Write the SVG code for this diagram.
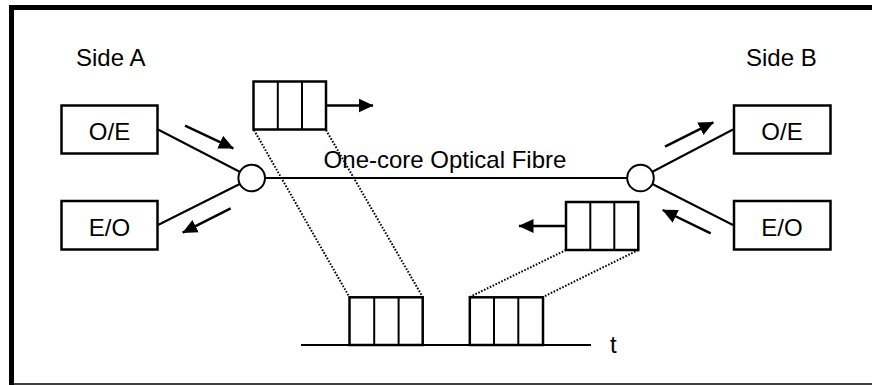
<svg xmlns="http://www.w3.org/2000/svg" width="872" height="385" viewBox="0 0 872 385">
<style>
text{font-family:"Liberation Sans",Arial,sans-serif;font-size:24px;fill:#000}
.box{fill:#fff;stroke:#000;stroke-width:2.5}
.ln{stroke:#000;stroke-width:2;fill:none}
.dot{stroke:#000;stroke-width:2;stroke-dasharray:1.6 1.6;fill:none}
.arr{stroke:#000;stroke-width:2.5;fill:none;marker-end:url(#ah)}
.cir{fill:#fff;stroke:#000;stroke-width:2}
</style>
<defs>
<marker id="ah" markerUnits="userSpaceOnUse" markerWidth="16" markerHeight="16" refX="14.5" refY="7" orient="auto">
<path d="M0,0 L15,7 L0,14 z" fill="#000"/>
</marker>
</defs>
<rect width="872" height="385" fill="#fff"/>
<g id="frame">
<rect x="9" y="5" width="863" height="5" fill="#000"/>
<rect x="9" y="5" width="5" height="380" fill="#000"/>
<line x1="14" y1="384" x2="872" y2="384" stroke="#000" stroke-width="1.5"/>
</g>
<g id="connectors">
<line class="ln" x1="158" y1="129.5" x2="251.7" y2="178"/>
<line class="ln" x1="158" y1="225" x2="251.7" y2="178"/>
<line class="ln" x1="251.7" y1="178" x2="640.5" y2="178"/>
<line class="ln" x1="733" y1="129.5" x2="640.5" y2="178"/>
<line class="ln" x1="733" y1="225" x2="640.5" y2="178"/>
<line class="arr" x1="185" y1="125.7" x2="233.3" y2="148.3"/>
<line class="arr" x1="230.7" y1="208.3" x2="182.7" y2="232.7"/>
<line class="arr" x1="665" y1="146.7" x2="713.3" y2="122.3"/>
<line class="arr" x1="710.7" y1="233.3" x2="662.7" y2="210"/>
<line class="arr" x1="326" y1="105.5" x2="373" y2="105.5"/>
<line class="arr" x1="566" y1="226" x2="519" y2="226"/>
<line class="dot" x1="254" y1="130" x2="349.3" y2="297"/>
<line class="dot" x1="326" y1="130" x2="422.7" y2="297"/>
<line class="dot" x1="566" y1="250" x2="469.7" y2="297"/>
<line class="dot" x1="638.3" y1="250" x2="543" y2="297"/>
<line class="ln" x1="301" y1="345" x2="591" y2="345"/>
</g>
<g id="sideA"><text x="76" y="66">Side A</text></g>
<g id="sideB"><text x="746" y="66">Side B</text></g>
<g id="oe-a"><rect class="box" x="61.5" y="105.5" width="96" height="48"/><text x="109.5" y="140" text-anchor="middle">O/E</text></g>
<g id="eo-a"><rect class="box" x="61.5" y="201" width="96" height="48.5"/><text x="109.5" y="236" text-anchor="middle">E/O</text></g>
<g id="oe-b"><rect class="box" x="734" y="105.5" width="96.5" height="48"/><text x="782" y="140" text-anchor="middle">O/E</text></g>
<g id="eo-b"><rect class="box" x="734" y="201" width="96.5" height="48.5"/><text x="782" y="236" text-anchor="middle">E/O</text></g>
<g id="coupler-a"><circle class="cir" cx="251.7" cy="178" r="13.3"/></g>
<g id="coupler-b"><circle class="cir" cx="640.5" cy="178" r="13.3"/></g>
<g id="fibre-label"><text x="445" y="168" text-anchor="middle">One-core Optical Fibre</text></g>
<g id="packet-a">
<rect class="box" x="253.5" y="81.5" width="72.5" height="48"/>
<line class="ln" x1="277.8" y1="81.5" x2="277.8" y2="129.5"/>
<line class="ln" x1="302" y1="81.5" x2="302" y2="129.5"/>
</g>
<g id="packet-b">
<rect class="box" x="566" y="202" width="72.3" height="48"/>
<line class="ln" x1="590.3" y1="202" x2="590.3" y2="250"/>
<line class="ln" x1="614.3" y1="202" x2="614.3" y2="250"/>
</g>
<g id="slot-1">
<rect class="box" x="349.5" y="297.3" width="73.2" height="47.7"/>
<line class="ln" x1="374.2" y1="297.3" x2="374.2" y2="345"/>
<line class="ln" x1="398.6" y1="297.3" x2="398.6" y2="345"/>
</g>
<g id="slot-2">
<rect class="box" x="469.8" y="297.3" width="73.2" height="47.7"/>
<line class="ln" x1="494" y1="297.3" x2="494" y2="345"/>
<line class="ln" x1="518.3" y1="297.3" x2="518.3" y2="345"/>
</g>
<g id="t-label"><text x="610" y="353">t</text></g>
</svg>
